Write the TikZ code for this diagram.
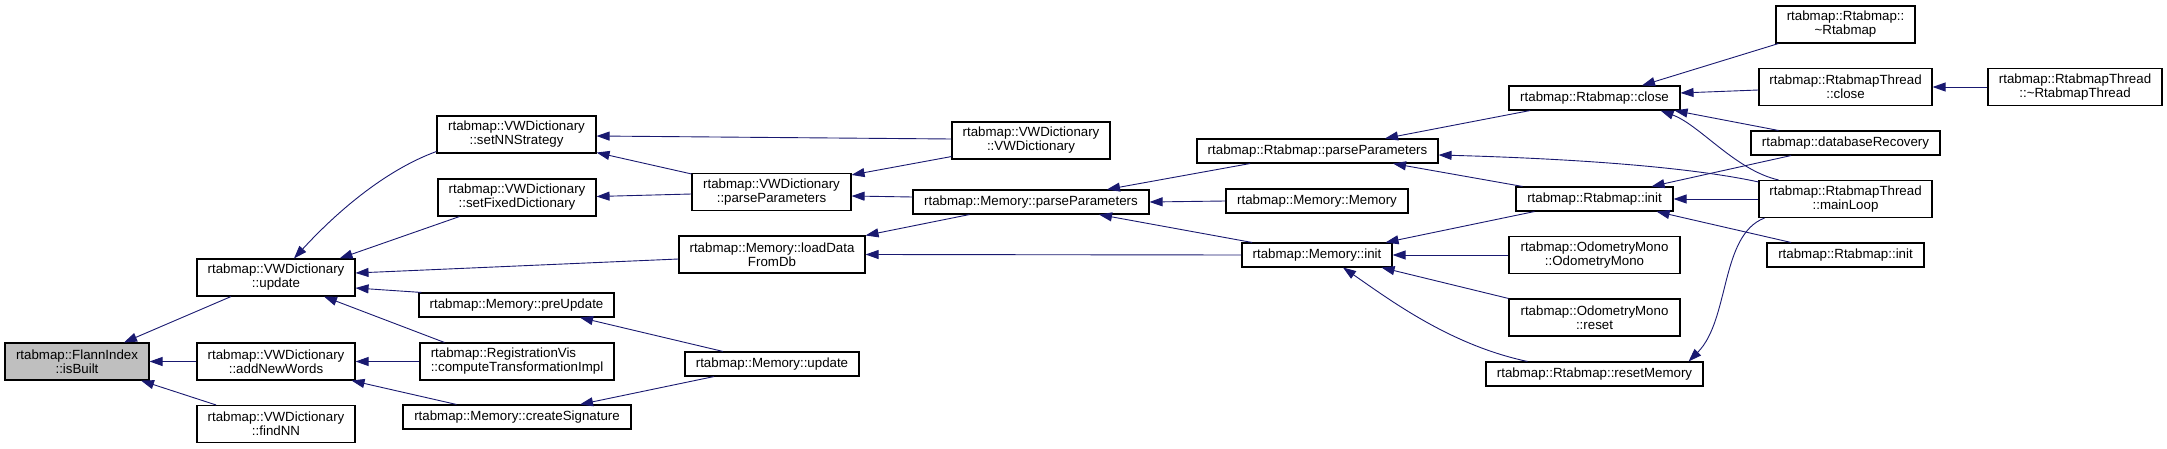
\documentclass[tikz,border=0pt]{standalone}
\usepackage{fontspec}
\setmainfont{Liberation Sans}
\usetikzlibrary{arrows.meta,calc}
\definecolor{edgeblue}{HTML}{191970}
\definecolor{boxgray}{HTML}{BFBFBF}
\begin{document}
\begin{tikzpicture}[x=1pt,y=-1pt,
  fnbox/.style={draw=black,line width=1.1pt,fill=white,inner sep=0pt,align=center,
    font=\fontsize{13.3pt}{14pt}\selectfont},
  fnone/.style={fnbox,minimum height=24pt},
  fntwo/.style={fnbox,minimum height=37pt},
  callarrow/.style={draw=edgeblue,line width=0.9pt,{Triangle[length=13pt,width=9pt]}-}]
\path[use as bounding box] (0,0) rectangle (2167,449);

% column 0
\node[fntwo,fill=boxgray,minimum width=144pt] (isBuilt) at (77,361.5) {rtabmap::FlannIndex\\::isBuilt};
% column 1
\node[fntwo,minimum width=158pt] (update) at (276,277.5) {rtabmap::VWDictionary\\::update};
\node[fntwo,minimum width=158pt] (addNewWords) at (276,361.5) {rtabmap::VWDictionary\\::addNewWords};
\node[fntwo,minimum width=158pt] (findNN) at (276,424) {rtabmap::VWDictionary\\::findNN};
% column 2
\node[fntwo,minimum width=159pt] (setNN) at (516.5,134.5) {rtabmap::VWDictionary\\::setNNStrategy};
\node[fntwo,minimum width=158pt] (setFixed) at (517,197.5) {rtabmap::VWDictionary\\::setFixedDictionary};
\node[fnone,minimum width=195pt] (preUpdate) at (516.5,305) {rtabmap::Memory::preUpdate};
\node[fntwo,minimum width=194pt,align=left] (regVis) at (517,361.5) {rtabmap::RegistrationVis\\::computeTransformationImpl};
\node[fnone,minimum width=228pt] (createSig) at (517,417) {rtabmap::Memory::createSignature};
% column 3
\node[fntwo,minimum width=159pt] (vwParse) at (771.5,192) {rtabmap::VWDictionary\\::parseParameters};
\node[fntwo,minimum width=186pt] (loadData) at (772,254.5) {rtabmap::Memory::loadData\\FromDb};
\node[fnone,minimum width=174pt] (memUpdate) at (772,364) {rtabmap::Memory::update};
% column 4
\node[fntwo,minimum width=158pt] (vwCtor) at (1031,140.5) {rtabmap::VWDictionary\\::VWDictionary};
\node[fnone,minimum width=236pt] (memParse) at (1031,202) {rtabmap::Memory::parseParameters};
% column 5
\node[fnone,minimum width=241pt] (rtParse) at (1317.5,151) {rtabmap::Rtabmap::parseParameters};
\node[fnone,minimum width=182pt] (memMemory) at (1317,201) {rtabmap::Memory::Memory};
\node[fnone,minimum width=150pt] (memInit) at (1317,255) {rtabmap::Memory::init};
% column 6
\node[fnone,minimum width=171pt] (rtClose) at (1594.5,98) {rtabmap::Rtabmap::close};
\node[fnone,minimum width=157pt] (rtInit) at (1594.5,199) {rtabmap::Rtabmap::init};
\node[fntwo,minimum width=171pt] (odoCtor) at (1594.5,255) {rtabmap::OdometryMono\\::OdometryMono};
\node[fntwo,minimum width=171pt] (odoReset) at (1594.5,317.5) {rtabmap::OdometryMono\\::reset};
\node[fnone,minimum width=217pt] (resetMem) at (1594.5,374) {rtabmap::Rtabmap::resetMemory};
% column 7
\node[fntwo,minimum width=139pt] (rtDtor) at (1845.5,24.5) {rtabmap::Rtabmap::\\\textasciitilde Rtabmap};
\node[fntwo,minimum width=173pt] (thrClose) at (1845.5,87) {rtabmap::RtabmapThread\\::close};
\node[fnone,minimum width=189pt] (dbRec) at (1845.5,143) {rtabmap::databaseRecovery};
\node[fntwo,minimum width=173pt] (mainLoop) at (1845.5,199) {rtabmap::RtabmapThread\\::mainLoop};
\node[fnone,minimum width=157pt] (rtInit2) at (1845.5,255) {rtabmap::Rtabmap::init};
% column 8
\node[fntwo,minimum width=174pt] (thrDtor) at (2075,87) {rtabmap::RtabmapThread\\::\textasciitilde RtabmapThread};

% connectors (arrow at the called function)
\draw[callarrow] ($(isBuilt.north)+(47,0)$) -- ($(update.south)+(-45,0)$);
\draw[callarrow] (isBuilt.east) -- (addNewWords.west);
\draw[callarrow] ($(isBuilt.south)+(64,0)$) -- ($(findNN.north)+(-60,0)$);
\draw[callarrow] ($(update.north)+(18,0)$) .. controls (339,209.5) and (387,169.5) .. ($(setNN.west)+(0,17)$);
\draw[callarrow] ($(update.north east)+(-16,0)$) -- ($(setFixed.south west)+(22,0)$);
\draw[callarrow] ($(update.east)+(0,-4.5)$) -- ($(loadData.west)+(0,4.5)$);
\draw[callarrow] ($(update.east)+(0,10.5)$) -- ($(preUpdate.north west)+(3,0)$);
\draw[callarrow] ($(update.south)+(48,0)$) -- ($(regVis.north west)+(25,0)$);
\draw[callarrow] (addNewWords.east) -- (regVis.west);
\draw[callarrow] ($(addNewWords.south east)+(-4,0)$) -- ($(createSig.north west)+(54,0)$);
\draw[callarrow] ($(setNN.east)+(0,1.5)$) -- ($(vwCtor.west)+(0,-1.5)$);
\draw[callarrow] ($(setNN.south east)+(0,-1)$) -- ($(vwParse.north west)+(0,1)$);
\draw[callarrow] ($(setFixed.east)+(0,-1)$) -- ($(vwParse.west)+(0,2)$);
\draw[callarrow] ($(vwParse.north east)+(0,2)$) -- ($(vwCtor.south west)+(0,-3)$);
\draw[callarrow] ($(vwParse.east)+(0,4)$) -- ($(memParse.west)+(0,-5)$);
\draw[callarrow] (loadData.north east) -- ($(memParse.south west)+(57,0)$);
\draw[callarrow] (loadData.east) -- (memInit.west);
\draw[callarrow] ($(preUpdate.south)+(63.5,0)$) -- ($(memUpdate.north)+(-49,0)$);
\draw[callarrow] ($(createSig.north)+(63,0)$) -- ($(memUpdate.south)+(-58,0)$);
\draw[callarrow] ($(memParse.north)+(76,0)$) -- ($(rtParse.south)+(-67.5,0)$);
\draw[callarrow] (memParse.east) -- (memMemory.west);
\draw[callarrow] ($(memParse.south)+(68,0)$) -- ($(memInit.north)+(-65,0)$);
\draw[callarrow] ($(rtParse.north)+(67.5,0)$) -- ($(rtClose.south)+(-64.5,0)$);
\draw[callarrow] ($(rtParse.east)+(0,4)$) .. controls (1550,158) and (1680,165) .. ($(mainLoop.north west)+(0,2)$);
\draw[callarrow] ($(rtParse.south)+(75.5,0)$) -- ($(rtInit.north west)+(7,0)$);
\draw[callarrow] ($(memInit.north east)+(-7,0)$) -- ($(rtInit.south west)+(19,0)$);
\draw[callarrow] (memInit.east) -- (odoCtor.west);
\draw[callarrow] ($(memInit.south east)+(-11,0)$) -- (odoReset.north west);
\draw[callarrow] ($(memInit.south)+(26,0)$) .. controls (1390,300) and (1450,345) .. ($(resetMem.north west)+(42,0)$);
\draw[callarrow] ($(rtClose.north)+(47.5,0)$) -- ($(rtDtor.south west)+(3,0)$);
\draw[callarrow] ($(rtClose.east)+(0,-5)$) -- ($(thrClose.west)+(0,3)$);
\draw[callarrow] ($(rtClose.south east)+(-6,0)$) -- ($(dbRec.north west)+(28,0)$);
\draw[callarrow] ($(rtClose.south east)+(-20,0)$) .. controls (1700,125) and (1735,170) .. ($(mainLoop.north west)+(20,0)$);
\draw[callarrow] (thrClose.east) -- (thrDtor.west);
\draw[callarrow] ($(rtInit.north east)+(-22,0)$) -- ($(dbRec.south)+(-54.5,0)$);
\draw[callarrow] (rtInit.east) -- (mainLoop.west);
\draw[callarrow] ($(rtInit.south east)+(-17,0)$) -- ($(rtInit2.north)+(-54.5,0)$);
\draw[callarrow] ($(resetMem.north east)+(-15,0)$) .. controls (1730,320) and (1720,235) .. ($(mainLoop.south west)+(6,0)$);
\end{tikzpicture}
\end{document}
